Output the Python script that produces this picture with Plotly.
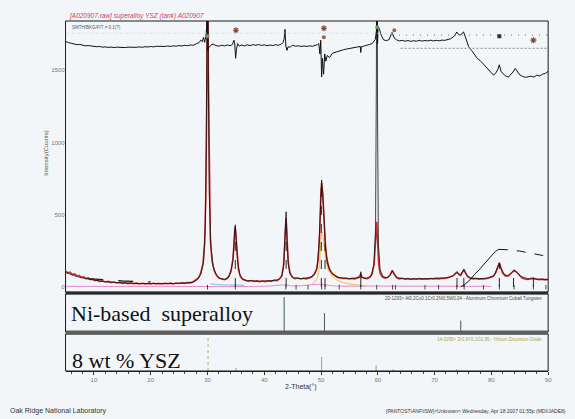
import plotly.graph_objects as go

# ---------------- data ----------------
# observed pattern (2-theta, counts)
OBS = [(5.0,110),(5.4,98),(5.8,102),(6.2,86),(6.6,90),(7.0,76),(7.4,80),(7.8,66),(8.2,70),(8.6,58),
       (9.0,62),(9.4,50),(9.8,55),(10.2,44),(10.6,48),(11.0,38),(11.5,42),(12.0,34),(12.5,38),(13.0,30),
       (13.5,34),(14.0,27),(14.5,31),(15.0,25),(15.5,29),(16.0,23),(16.5,28),(17.0,22),(17.5,26),(18.0,21),
       (18.5,25),(19.0,20),(19.5,24),(20.0,20),(20.5,25),(21.0,21),(21.5,24),(22.0,20),(22.5,25),(23.0,22),
       (23.5,26),(24.0,21),(24.5,27),(25.0,24),(25.5,28),(26.0,25),(26.5,30),(27.0,28),(27.5,36),(28.0,48),
       (28.4,62),(28.8,95),(29.2,160),(29.5,300),(29.7,620),(29.85,1200),(29.95,1900),(30.05,2100),(30.15,1500),
       (30.3,700),(30.5,330),(30.8,180),(31.2,110),(31.6,80),(32.0,62),(32.5,55),(33.0,50),(33.4,58),(33.8,75),
       (34.2,120),(34.5,200),(34.7,320),(34.85,415),(35.0,360),(35.2,220),(35.45,120),(35.8,72),(36.2,52),
       (36.7,45),(37.2,40),(37.7,44),(38.2,38),(38.7,42),(39.2,36),(39.7,41),(40.2,37),(40.7,43),(41.2,39),
       (41.7,46),(42.2,44),(42.7,55),(43.1,80),(43.4,150),(43.65,330),(43.85,475),(44.0,350),(44.2,180),
       (44.5,100),(44.9,70),(45.4,58),(45.9,62),(46.4,55),(46.9,60),(47.4,56),(47.9,63),(48.4,70),(48.8,88),
       (49.2,120),(49.5,190),(49.75,360),(49.95,620),(50.1,720),(50.3,640),(50.5,460),(50.75,300),(51.0,200),
       (51.4,130),(51.9,95),(52.4,78),(52.9,66),(53.4,62),(53.9,58),(54.4,60),(54.9,55),(55.4,58),(55.9,56),
       (56.4,62),(56.8,75),(57.0,92),(57.2,70),(57.6,60),(58.1,58),(58.6,66),(59.0,90),(59.35,160),(59.6,300),
       (59.8,450),(59.95,320),(60.15,160),(60.4,95),(60.8,68),(61.3,60),(61.8,66),(62.2,85),(62.55,115),
       (62.9,88),(63.3,65),(63.8,56),(64.3,60),(64.8,54),(65.3,58),(65.8,52),(66.3,57),(66.8,53),(67.3,58),
       (67.8,54),(68.3,57),(68.8,53),(69.3,58),(69.8,55),(70.3,59),(70.8,56),(71.3,60),(71.8,58),(72.3,63),
       (72.8,68),(73.3,78),(73.7,95),(73.95,102),(74.3,85),(74.6,80),(74.9,100),(75.15,122),(75.4,100),
       (75.8,72),(76.3,60),(76.8,56),(77.3,58),(77.8,54),(78.3,57),(78.8,55),(79.3,60),(79.8,64),(80.3,72),
       (80.8,100),(81.2,150),(81.4,165),(81.6,140),(82.0,95),(82.5,75),(83.0,78),(83.5,95),(84.0,115),
       (84.4,105),(84.9,80),(85.4,62),(85.9,55),(86.4,52),(86.9,58),(87.4,62),(87.9,55),(88.4,50),(88.9,54),
       (89.4,49),(90.0,52)]

# calculated (fitted) pattern
CALC = [(5.0,100),(6,85),(7,72),(8,62),(9,54),(10,47),(11,41),(12,36),(14,30),(16,26),(18,24),(20,23),
        (22,23),(24,24),(26,27),(27.5,34),(28.2,50),(28.8,85),(29.3,170),(29.6,400),(29.8,1000),(29.95,2600),
        (30.05,3000),(30.15,1500),(30.3,650),(30.6,280),(31.0,140),(31.6,80),(32.2,60),(33.0,52),(33.6,62),
        (34.1,100),(34.5,190),(34.75,360),(34.9,430),(35.05,340),(35.3,180),(35.7,85),(36.2,55),(37,44),
        (39,40),(41,42),(42.5,50),(43.1,75),(43.45,160),(43.7,420),(43.85,520),(44.0,330),(44.25,150),
        (44.6,85),(45.2,62),(46.5,58),(48,64),(48.8,85),(49.3,130),(49.65,300),(49.9,600),(50.1,740),
        (50.3,650),(50.55,430),(50.8,270),(51.1,170),(51.6,110),(52.3,80),(53.2,65),(55,58),(56.5,60),
        (56.95,65),(57.0,105),(57.05,65),(58.0,60),(58.8,75),(59.3,150),(59.6,400),(59.75,1500),(59.85,3000),
        (59.95,1200),(60.1,300),(60.4,120),(60.9,72),(61.6,64),(62.2,82),(62.55,112),(62.9,85),(63.5,62),
        (65,56),(68,56),(71,58),(72.5,64),(73.3,78),(73.95,100),(74.5,82),(75.15,120),(75.6,85),(76.3,62),
        (78,57),(79.5,62),(80.5,80),(81.1,140),(81.4,168),(81.7,130),(82.3,85),(83,78),(83.7,105),(84.0,115),
        (84.5,100),(85.2,72),(86.5,56),(88,54),(90,52)]

# difference curve (obs - calc), drawn with an offset at the top
DIFF = [(5.0,28),(5.5,18),(6.0,14),(6.5,8),(7.0,4),(7.5,6),(8.0,0),(8.5,-4),(9.0,-2),(9.5,-6),(10.0,-7),
        (10.5,-10),(11.0,-8),(11.5,-13),(12.0,-11),(12.5,-15),(13.0,-12),(13.5,-16),(14.0,-13),(14.5,-15),
        (15.0,-12),(15.5,-16),(16.0,-13),(16.5,-15),(17.0,-12),(17.5,-14),(18.0,-11),(18.5,-14),(19.0,-10),
        (19.5,-12),(20.0,-8),(20.5,-11),(21.0,-7),(21.5,-9),(22.0,-6),(22.5,-8),(23.0,-5),(23.5,-8),(24.0,-4),
        (24.5,-6),(25.0,-2),(25.5,-5),(26.0,0),(26.5,-3),(27.0,2),(27.5,0),(28.0,10),(28.5,18),(28.8,35),
        (29.1,25),(29.3,55),(29.5,20),(29.7,60),(29.85,120),(29.95,500),(30.05,-40),(30.2,-15),(30.4,-10),
        (30.7,5),(31.0,8),(31.5,-2),(32.0,-6),(32.5,0),(33.0,-4),(33.5,2),(34.0,-3),(34.4,6),(34.65,35),
        (34.8,10),(34.95,-90),(35.1,-30),(35.3,12),(35.6,-6),(36.0,2),(36.5,-4),(37.0,3),(37.5,-2),(38.0,4),
        (38.5,0),(39.0,5),(39.5,-1),(40.0,3),(40.5,-3),(41.0,2),(41.5,-2),(42.0,4),(42.5,0),(43.0,8),(43.3,20),
        (43.5,45),(43.65,110),(43.8,-5),(44.0,-35),(44.2,-10),(44.5,-14),(45.0,0),(45.5,-6),(46.0,-4),(46.5,-8),
        (47.0,-5),(47.5,-8),(48.0,-4),(48.5,-7),(49.0,-2),(49.4,5),(49.6,12),(49.8,-60),(49.95,35),(50.1,-220),
        (50.25,-90),(50.45,-200),(50.65,-60),(50.85,-110),(51.1,-70),(51.5,-85),(52.0,-55),(52.5,-48),
        (53.0,-40),(53.5,-35),(54.0,-30),(54.5,-26),(55.0,-22),(55.5,-18),(56.0,-14),(56.5,-12),(56.9,-8),
        (57.0,-50),(57.1,-10),(57.5,-6),(58.0,-2),(58.5,5),(59.0,12),(59.3,25),(59.55,40),(59.75,100),
        (59.85,600),(59.95,10),(60.05,130),(60.3,110),(60.6,70),(61.0,38),(61.5,32),(62.0,40),(62.5,90),
        (62.9,50),(63.3,38),(63.8,30),(64.3,34),(64.8,28),(65.3,33),(65.8,27),(66.3,32),(66.8,28),(67.3,34),
        (67.8,29),(68.3,33),(68.8,30),(69.3,35),(69.8,30),(70.3,34),(70.8,31),(71.3,36),(71.8,34),(72.3,40),
        (72.8,45),(73.3,58),(73.6,70),(73.9,92),(74.2,75),(74.5,70),(74.8,80),(75.1,92),(75.4,60),(75.7,30),
        (76.0,-10),(76.5,-35),(77.0,-60),(77.5,-90),(78.0,-105),(78.5,-125),(79.0,-145),(79.5,-170),
        (80.0,-190),(80.4,-207),(80.8,-190),(81.1,-170),(81.4,-135),(81.7,-180),(82.0,-195),(82.5,-212),
        (83.0,-220),(83.4,-205),(83.8,-185),(84.2,-160),(84.5,-175),(85.0,-205),(85.5,-215),(86.0,-222),
        (86.5,-218),(87.0,-214),(87.5,-220),(88.0,-207),(88.5,-212),(89.0,-200),(89.5,-195),(90.0,-180)]
DIFF_OFFSET = 1672

# fitted background / amorphous hump (right) and left dashed background
HUMP_SOLID = [(74.6,0),(76,40),(77,85),(78,125),(79,170),(80,215),(80.7,245),(81.3,260)]
HUMP_DASH = [(81.3,260),(83,257),(85,248),(87,235),(89,218),(90,210)]
LEFT_BKG = [(9,58),(12,47),(15,41),(18,37),(20,35)]

# component profile lines at the baseline
PINK_COMP = [(5,4),(20,4),(40,5),(43.8,14),(45,6),(50.1,18),(52,8),(60,6),(70,5),(80,4)]
YELLOW_COMP = [(48.5,20),(49.3,60),(49.7,150),(50.0,330),(50.2,380),(50.5,300),(50.9,180),(51.5,100),
               (52.5,55),(54,30),(56,15),(58,8)]
CYAN_COMP = [(30.5,22),(32,16),(34,13),(35,14),(36.5,11)]

# dashed peak-position markers (2-theta, height)
PEAK_MARKS = [(34.9,410),(43.85,470),(50.05,700),(50.7,300),(57.0,92),(73.95,100),(75.15,120),
              (81.4,160),(83.9,110),(87.4,90)]
# reflection tick positions
REFL_TICKS = [30.0,34.9,43.8,45.6,47.7,50.1,50.7,53.2,57.0,59.8,62.6,63.1,68.3,70.7,73.9,75.2,
              78.6,81.4,84.0,87.4,89.6]

# phase ID symbols above the difference curve
ID_GREEN = [(30.0,1735),(59.9,1797)]
ID_STAR = [(35.0,1776),(50.5,1790),(87.4,1707)]
ID_DOT = [(50.5,1728),(62.9,1776)]
ID_SQUARE = [(81.4,1735)]

# reference stick patterns
NI_STICKS = [(43.5,92),(50.6,50),(74.6,30)]
YSZ_STICKS = [(35.0,8),(50.1,38),(59.7,16),(62.7,5),(73.9,5)]
YSZ_MAIN = [(30.1,100)]

X_TICKS = [10, 20, 30, 40, 50, 60, 70, 80, 90]
Y_TICKS = [0, 500, 1000, 1500]

# ---------------- helpers ----------------
W, H = 575, 419
def px(x): return x / W
def py(y): return 1 - y / H

def xs(p): return [a for a, b in p]
def ys(p): return [b for a, b in p]

def segs(pairs, base=0):
    X, Y = [], []
    for a, b in pairs:
        X += [a, a, None]; Y += [base, b, None]
    return X, Y

BG = "#f3f6f9"
fig = go.Figure()

# components
for comp, col in [(PINK_COMP, "#e58ac8"), (YELLOW_COMP, "#e6c248"), (CYAN_COMP, "#6cc8d8")]:
    fig.add_trace(go.Scatter(x=xs(comp), y=ys(comp), mode="lines",
                             line=dict(color=col, width=1), line_shape="spline"))

# observed
fig.add_trace(go.Scatter(x=xs(OBS), y=ys(OBS), mode="lines",
                         line=dict(color="#d42a2a", width=1.6)))
# calculated
fig.add_trace(go.Scatter(x=xs(CALC), y=ys(CALC), mode="lines",
                         line=dict(color="#111111", width=0.8)))

# dashed peak markers
mx, my = segs(PEAK_MARKS)
fig.add_trace(go.Scatter(x=mx, y=my, mode="lines",
                         line=dict(color="#111111", width=0.9, dash="dash")))
# reflection ticks
tx, ty = [], []
for t in REFL_TICKS:
    tx += [t, t, None]; ty += [-18, 14, None]
fig.add_trace(go.Scatter(x=tx, y=ty, mode="lines", line=dict(color="#222222", width=0.8)))

# backgrounds
fig.add_trace(go.Scatter(x=xs(HUMP_SOLID), y=ys(HUMP_SOLID), mode="lines",
                         line=dict(color="#111111", width=1), line_shape="spline"))
fig.add_trace(go.Scatter(x=xs(HUMP_DASH), y=ys(HUMP_DASH), mode="lines",
                         line=dict(color="#111111", width=1, dash="dash")))
fig.add_trace(go.Scatter(x=xs(LEFT_BKG), y=ys(LEFT_BKG), mode="lines",
                         line=dict(color="#222222", width=1.3, dash="longdash")))

# difference curve
fig.add_trace(go.Scatter(x=xs(DIFF), y=[v + DIFF_OFFSET for v in ys(DIFF)], mode="lines",
                         line=dict(color="#111111", width=1)))
# dotted reference lines in difference area
fig.add_trace(go.Scatter(x=[5, 63], y=[1755, 1755], mode="lines",
                         line=dict(color="#dde1e5", width=1, dash="dot")))
fig.add_trace(go.Scatter(x=[62.5, 90], y=[1742, 1742], mode="lines",
                         line=dict(color="#8a8a8a", width=1.2, dash="1px,6px")))
fig.add_trace(go.Scatter(x=[64, 90], y=[1650, 1650], mode="lines",
                         line=dict(color="#9a9a9a", width=1.2, dash="2px,2px")))

# phase symbols
fig.add_trace(go.Scatter(x=xs(ID_GREEN), y=ys(ID_GREEN), mode="markers",
                         marker=dict(symbol="circle", size=4, color="#6a9a5a")))
fig.add_trace(go.Scatter(x=xs(ID_STAR), y=ys(ID_STAR), mode="markers",
                         marker=dict(symbol="asterisk-open", size=5, color="#8a4a3a", line=dict(width=1.2, color="#8a4a3a"))))
fig.add_trace(go.Scatter(x=xs(ID_DOT), y=ys(ID_DOT), mode="markers",
                         marker=dict(symbol="circle", size=4, color="#9a6a4a")))
fig.add_trace(go.Scatter(x=xs(ID_SQUARE), y=ys(ID_SQUARE), mode="markers",
                         marker=dict(symbol="square", size=4, color="#333333")))

# Ni-based superalloy sticks
nx, ny = segs(NI_STICKS)
fig.add_trace(go.Scatter(x=nx, y=ny, mode="lines", xaxis="x", yaxis="y2",
                         line=dict(color="#3d5e4c", width=1)))
# YSZ sticks
sx, sy = segs(YSZ_STICKS)
fig.add_trace(go.Scatter(x=sx, y=sy, mode="lines", xaxis="x", yaxis="y3",
                         line=dict(color="#a8a24a", width=1)))
zx, zy = segs(YSZ_MAIN)
fig.add_trace(go.Scatter(x=zx, y=zy, mode="lines", xaxis="x", yaxis="y3",
                         line=dict(color="#b0ae80", width=1, dash="dot")))

X0, X1 = px(66), px(552)
MAIN = (py(292), py(21))
P2 = (py(332), py(294))
P3 = (py(371), py(334))

tickfont = dict(family="Liberation Sans, Arial, sans-serif", size=6, color="#777777")

fig.update_layout(
    width=W, height=H, autosize=False,
    margin=dict(l=0, r=0, t=0, b=0),
    paper_bgcolor=BG, plot_bgcolor=BG,
    showlegend=False,
    xaxis=dict(domain=[X0, X1], range=[5, 90], anchor="y3", tickvals=X_TICKS,
               ticks="outside", ticklen=3, tickcolor="#333", tickwidth=1,
               minor=dict(dtick=2, ticks="outside", ticklen=2, tickcolor="#444"),
               showgrid=False, zeroline=False, showline=True, linecolor="#222", linewidth=1,
               tickfont=tickfont),
    yaxis=dict(domain=list(MAIN), range=[-35, 1840], tickvals=Y_TICKS, ticks="",
               showgrid=False, zeroline=False, showline=False, tickfont=tickfont, anchor="x"),
    yaxis2=dict(domain=list(P2), range=[0, 100], showticklabels=False, showgrid=False,
                zeroline=False, anchor="x"),
    yaxis3=dict(domain=list(P3), range=[0, 100], showticklabels=False, showgrid=False,
                zeroline=False, anchor="x"),
)

shapes = []
for (b, t) in [MAIN, P2, P3]:
    shapes.append(dict(type="rect", xref="paper", yref="paper", x0=X0, x1=X1, y0=b, y1=t,
                       line=dict(color="#1a1a1a", width=1), layer="above"))
shapes.append(dict(type="line", xref="paper", yref="paper", x0=X0, x1=X1, y0=py(293), y1=py(293),
                   line=dict(color="#2a2a2a", width=2.5), layer="above"))
shapes.append(dict(type="line", xref="paper", yref="paper", x0=X0, x1=X1, y0=py(332.5), y1=py(332.5),
                   line=dict(color="#5e5e5e", width=4), layer="above"))
fig.update_layout(shapes=shapes)

ann = []
def A(text, x, y, size, color="#333", xanchor="left", yanchor="middle", family="Liberation Sans, Arial, sans-serif", angle=0):
    ann.append(dict(text=text, x=px(x), y=py(y), xref="paper", yref="paper", showarrow=False,
                    xanchor=xanchor, yanchor=yanchor, textangle=angle,
                    font=dict(size=size, color=color, family=family)))

A("<i>[A020907.raw] superalloy YSZ (tank) A020907</i>", 67, 16, 6.5, color="#d0405a")
A("SMTH/BKG/FIT = 0.1(?)", 70, 27, 4.5, color="#555")
A("Intensity(Counts)", 46, 153, 6, color="#555", xanchor="center", angle=-90)
A("Ni-based  superalloy", 69, 313, 22, color="#111", family="Liberation Serif, Times New Roman, serif")
A("8 wt % YSZ", 70, 360, 22, color="#111", family="Liberation Serif, Times New Roman, serif")
A("20-1293> Al0.2Co0.1Cr0.2Ni0.5W0.04 - Aluminum Chromium Cobalt Tungsten", 548, 298.5, 4.5,
  color="#444", xanchor="right")
A("14-0295> Zr0.9Y0.1O1.95 - Yttrium Zirconium Oxide", 548, 339, 4.5, color="#a8a040", xanchor="right")
A("2-Theta(°)", 285, 387, 7, color="#333")
A("Oak Ridge National Laboratory", 8, 411, 7, color="#333")
A("[PANTOST\\ANF\\ISW]<Unknown> Wednesday, Apr 18 2007 01:55p (MDI/JADE8)", 572, 411, 5,
  color="#333", xanchor="right")
fig.update_layout(annotations=ann)

fig.write_html("out.html")
